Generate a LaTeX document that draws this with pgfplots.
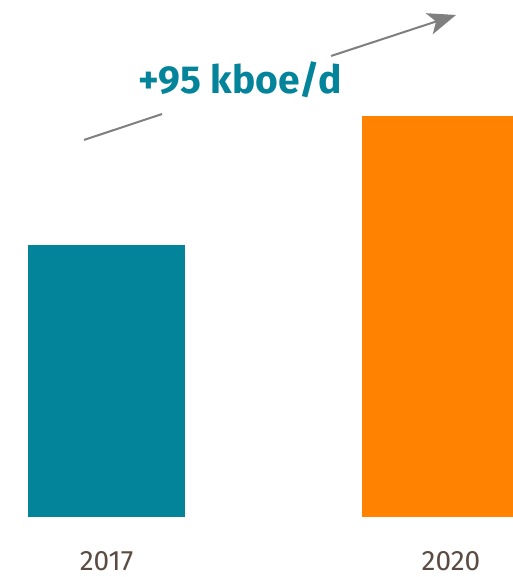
\documentclass[border=0pt]{standalone}
\usepackage{fontspec}
\setmainfont{Fira Sans}
\usepackage{pgfplots}
\pgfplotsset{compat=1.18}
\usetikzlibrary{arrows.meta}
\definecolor{teal1}{HTML}{03849A}
\definecolor{orange1}{HTML}{FF8300}
\definecolor{lab}{HTML}{5B4B43}
\definecolor{arr}{HTML}{7F7F7F}
\begin{document}
\begin{tikzpicture}
\begin{axis}[
  at={(0,59.5bp)}, anchor=south west,
  scale only axis, width=513bp, height=517.5bp,
  xmin=-0.3189, xmax=1.2171, ymin=0, ymax=379.8,
  axis line style={draw=none}, major tick length=0pt,
  ytick=\empty,
  xtick={0,1.0314}, xticklabels={2017,2020},
  xticklabel style={anchor=base, yshift=-53bp, font=\fontsize{28bp}{32bp}\selectfont, text=lab},
  ybar, bar width=157bp, bar shift=0pt,
]
\addplot[fill=teal1, draw=none] coordinates {(0,200)};
\addplot[fill=orange1, draw=none] coordinates {(1,295)};
\draw[arr, line width=2bp] (axis cs:-0.0674,277.1) -- (axis cs:0.1662,296.1);
\draw[arr, line width=2bp, -{Stealth[length=28bp,width=22bp,inset=7bp]}] (axis cs:0.6722,338.7) -- (axis cs:1.0464,368.8);
\node[text=teal1, font=\fontsize{39bp}{44bp}\selectfont\bfseries] at (axis cs:0.3997,321.5) {+95 kboe/d};
\end{axis}
\pgfresetboundingbox
\path[use as bounding box] (0,0) rectangle (513bp,577bp);
\end{tikzpicture}
\end{document}
